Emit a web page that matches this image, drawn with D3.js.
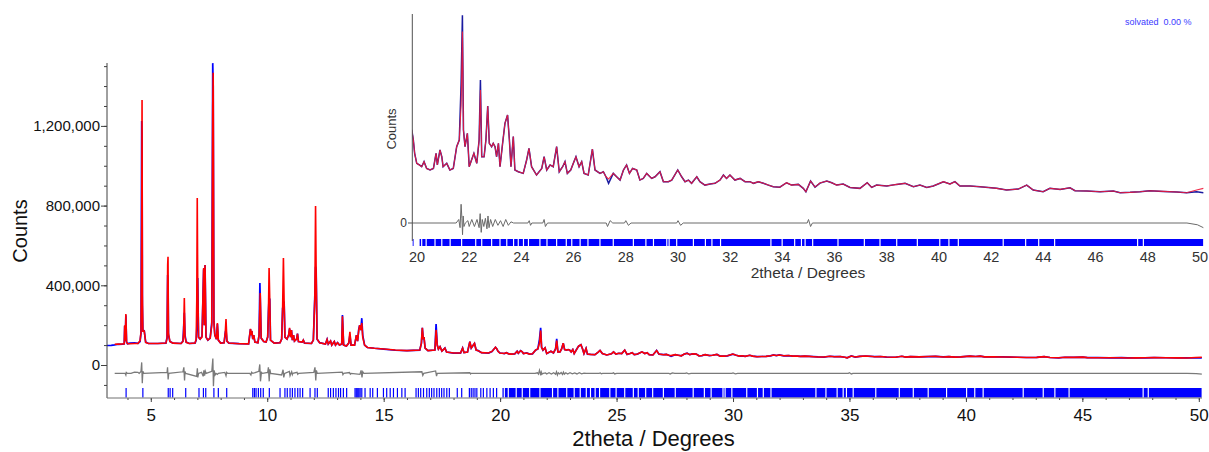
<!DOCTYPE html>
<html><head><meta charset="utf-8">
<script src="https://cdn.jsdelivr.net/npm/d3@7"></script>
<style>
html,body{margin:0;padding:0;background:#fff;}
svg{display:block;font-family:Arial,"Liberation Sans",sans-serif;}
</style></head><body>
<svg id="chart" width="1209" height="452"></svg>
<script>
// ---------------- DATA (2theta in degrees, intensities in thousands of counts) ----------------
const twoTheta = [
 3.12, 3.30, 3.45, 3.60, 3.80, 3.86, 3.88, 3.905, 3.93, 3.96,
 4.00, 4.10, 4.30, 4.45, 4.54, 4.58, 4.61, 4.625, 4.64, 4.66,
 4.72, 4.78, 4.90, 5.30, 5.65, 5.70, 5.725, 5.74, 5.76, 5.82,
 5.95, 6.30, 6.38, 6.41, 6.44, 6.47, 6.52, 6.65, 6.90, 6.95,
 6.975, 6.995, 7.015, 7.05, 7.12, 7.20, 7.27, 7.30, 7.33, 7.37,
 7.45, 7.55, 7.62, 7.66, 7.68, 7.71, 7.75, 7.82, 7.86, 7.90,
 8.00, 8.15, 8.20, 8.23, 8.27, 8.35, 8.80, 9.20, 9.28, 9.31,
 9.34, 9.38, 9.42, 9.47, 9.60, 9.65, 9.685, 9.70, 9.74, 9.85,
 9.95, 10.02, 10.05, 10.08, 10.11, 10.14, 10.30, 10.55, 10.62, 10.66,
 10.695, 10.725, 10.76, 10.85, 10.92, 10.96, 11.00, 11.04, 11.08, 11.13,
 11.17, 11.26, 11.30, 11.34, 11.50, 11.55, 11.60, 11.90, 11.98, 12.045,
 12.075, 12.10, 12.14, 12.25, 12.50, 12.57, 12.62, 12.72, 12.77, 12.88,
 12.93, 13.02, 13.10, 13.20, 13.23, 13.28, 13.40, 13.50, 13.55, 13.60,
 13.75, 13.83, 13.88, 13.93, 13.97, 14.02, 14.06, 14.10, 14.18, 14.30,
 14.60, 15.00, 15.50, 16.00, 16.55, 16.62, 16.66, 16.70, 16.73, 16.78,
 16.90, 17.20, 17.25, 17.30, 17.35, 17.42, 17.50, 17.63, 17.70, 18.00,
 18.30, 18.39, 18.45, 18.60, 18.70, 18.76, 18.82, 18.90, 18.97, 19.06,
 19.20, 19.50, 19.65, 19.80,
 19.86, 19.91, 19.99, 20.09, 20.18, 20.27, 20.37, 20.50, 20.63, 20.73,
 20.78, 20.88, 20.95, 21.00, 21.14, 21.26, 21.39, 21.52, 21.62, 21.69,
 21.74, 21.78, 21.84, 21.93, 22.00, 22.09, 22.18, 22.29, 22.38, 22.43,
 22.48, 22.57, 22.64, 22.71, 22.77, 22.86, 22.92, 22.99, 23.05, 23.12,
 23.18, 23.28, 23.37, 23.47, 23.54, 23.60, 23.69, 23.75, 23.88, 24.07,
 24.20, 24.29, 24.39, 24.58, 24.78, 24.87, 24.97, 25.10, 25.22, 25.35,
 25.45, 25.58, 25.67, 25.76, 25.89, 25.99, 26.09, 26.21, 26.31, 26.40,
 26.56, 26.72, 26.82, 27.01, 27.14, 27.24, 27.34, 27.52, 27.65, 27.78,
 27.91, 28.03, 28.14, 28.26, 28.42, 28.54, 28.67, 28.80, 28.99, 29.12,
 29.31, 29.44, 29.63, 29.76, 29.99, 30.14, 30.27, 30.40, 30.52, 30.72,
 30.84, 31.03, 31.23, 31.42, 31.61, 31.74, 31.86, 31.99, 32.18, 32.38,
 32.57, 32.76, 32.89, 33.08, 33.27, 33.46, 33.65, 33.90, 34.16, 34.35,
 34.61, 34.80, 34.90, 35.08, 35.25, 35.44, 35.70, 35.89, 36.08, 36.33,
 36.59, 36.97, 37.25, 37.42, 37.61, 38.00, 38.38, 38.70, 39.02, 39.27,
 39.53, 39.78, 40.17, 40.42, 40.61, 40.80, 41.19, 41.57, 41.89, 42.21,
 42.59, 43.04, 43.36, 43.61, 43.99, 44.25, 44.64, 45.02, 45.21, 45.66,
 46.17, 46.68, 46.94, 47.32, 47.70, 48.08, 48.59, 49.11, 49.49, 49.87,
 50.13
];
const observed = [
 98, 99, 101, 104, 105, 106, 196, 120, 250, 115,
 107, 110, 111, 109, 118, 160, 1225, 1150, 300, 175,
 172, 115, 108, 108, 110, 140, 452, 420, 150, 118,
 110, 108, 120, 185, 262, 150, 115, 108, 110, 125,
 180, 250, 437, 140, 130, 145, 480, 200, 502, 140,
 125, 135, 215, 1515, 1400, 220, 150, 130, 205, 125,
 110, 112, 165, 175, 120, 110, 107, 106, 180, 150,
 170, 130, 150, 115, 112, 150, 411, 340, 135, 118,
 115, 140, 262, 336, 330, 125, 110, 112, 130, 286,
 300, 319, 140, 130, 150, 182, 140, 175, 125, 150,
 120, 130, 157, 118, 115, 125, 110, 108, 125, 352,
 493, 480, 130, 112, 105, 128, 105, 120, 100, 118,
 100, 112, 100, 105, 251, 100, 95, 110, 150, 100,
 100, 150, 120, 180, 200, 175, 235, 150, 100, 88,
 84, 80, 74, 72, 75, 110, 187, 130, 140, 85,
 72, 75, 206, 100, 80, 92, 70, 85, 65, 60,
 60, 85, 62, 65, 117, 85, 95, 108, 75, 72,
 62, 60, 68, 89,
 80.3, 68.9, 60.4, 59, 57.5, 61.8, 56, 54.7, 56, 68.9,
 59, 71.8, 66, 57.5, 60.4, 54.7, 56, 74.6, 80.3, 128.8,
 187, 88.9, 74.6, 86, 57.5, 63.2, 68.9, 60.4, 80.3, 131.6,
 66, 66, 80.3, 109.4, 77.5, 74.6, 77.5, 74.6, 66, 77.5,
 57.5, 77.5, 94.6, 101.7, 80.3, 57.5, 83.2, 54.7, 53.2, 51.8,
 63.2, 73.2, 57.5, 50.4, 56, 66, 54.7, 59, 57.5, 74.6,
 53.2, 57.5, 61.8, 51.8, 54.7, 60.4, 66, 57.5, 61.8, 51.8,
 50.4, 72.6, 54.7, 51.8, 53.2, 48.9, 43.3, 51.8, 48.9, 46.1,
 54.7, 59, 51.8, 56, 54.7, 46.1, 47.5, 51.8, 47.5, 48.9,
 53.2, 44.7, 44.7, 46.1, 54.7, 48.9, 44.7, 46.1, 43.3, 48.9,
 44.7, 41.8, 42.7, 43.3, 46.1, 50.4, 47.5, 50.4, 46.1, 47.5,
 44.7, 44.7, 43.3, 44.7, 43.3, 41.8, 40.4, 40, 43.8, 41.8,
 42.4, 39, 36.1, 45.3, 40.1, 43.5, 45.3, 43.8, 41.8, 42.7,
 39.8, 39, 43.8, 39.8, 41.8, 41, 42.4, 43.3, 40.4, 41.8,
 39.8, 41, 44.7, 42.7, 44.7, 41, 41, 40.4, 39.8, 39,
 37.6, 38.4, 41.8, 37.6, 36.1, 39, 38.1, 39.5, 37, 36.7,
 36.1, 36.7, 35.3, 35.6, 36.1, 37, 36.4, 35.9, 35.3, 36.1,
 35.3
];
const calculated = [
 null, null, 104, 105, 106, 107, 200, 122, 256, 116,
 107, 107, 108, 108, 122, 165, 700, 1330, 350, 170,
 170, 113, 108, 108, 110, 135, 500, 543, 160, 118,
 110, 108, 118, 160, 336, 140, 114, 108, 110, 130,
 326, 838, 420, 140, 130, 140, 487, 200, 502, 140,
 125, 135, 200, 1300, 1467, 215, 150, 130, 210, 125,
 110, 112, 165, 231, 120, 110, 107, 106, 182, 150,
 172, 130, 150, 115, 112, 150, 300, 361, 135, 118,
 115, 140, 250, 487, 320, 125, 110, 112, 130, 280,
 537, 319, 140, 130, 150, 186, 140, 175, 125, 150,
 120, 130, 157, 118, 115, 125, 110, 108, 125, 340,
 798, 470, 130, 112, 105, 128, 105, 120, 100, 118,
 100, 112, 100, 105, 245, 100, 95, 110, 167, 100,
 100, 150, 120, 175, 200, 175, 210, 140, 100, 88,
 84, 80, 75, 72, 75, 110, 187, 130, 140, 85,
 72, 75, 176, 100, 80, 92, 70, 85, 65, 60,
 60, 85, 62, 65, 117, 85, 95, 108, 75, 72,
 62, 60, 68, 89,
 80.3, 68.9, 60.4, 59, 57.5, 61.8, 56, 54.7, 56, 68.9,
 59, 71.8, 66, 57.5, 60.4, 54.7, 56, 74.6, 80.3, 110,
 173, 88.9, 74.6, 86, 57.5, 63.2, 68.9, 60.4, 80.3, 123,
 66, 66, 80.3, 109.4, 77.5, 74.6, 77.5, 74.6, 66, 77.5,
 57.5, 77.5, 94.6, 101.7, 80.3, 57.5, 83.2, 54.7, 53.2, 51.8,
 63.2, 73.2, 57.5, 50.4, 56, 66, 54.7, 59, 57.5, 74.6,
 53.2, 57.5, 61.8, 51.8, 54.7, 60.4, 66, 57.5, 61.8, 51.8,
 50.4, 72.6, 54.7, 51.8, 53.2, 48.9, 47, 51.8, 48.9, 46.1,
 54.7, 59, 51.8, 56, 54.7, 46.1, 47.5, 51.8, 47.5, 48.9,
 53.2, 44.7, 44.7, 46.1, 54.7, 48.9, 44.7, 46.1, 43.3, 48.9,
 44.7, 41.8, 42.7, 43.3, 46.1, 50.4, 47.5, 50.4, 46.1, 47.5,
 44.7, 44.7, 43.3, 44.7, 43.3, 41.8, 40.4, 40, 43.8, 41.8,
 42.4, 39, 36.1, 45.3, 40.1, 43.5, 45.3, 43.8, 41.8, 42.7,
 39.8, 39, 43.8, 39.8, 41.8, 41, 42.4, 43.3, 40.4, 41.8,
 39.8, 41, 44.7, 42.7, 44.7, 41, 41, 40.4, 39.8, 39,
 37.6, 38.4, 41.8, 37.6, 36.1, 39, 38.1, 39.5, 37, 36.7,
 36.1, 36.7, 35.3, 35.6, 36.1, 37, 36.4, 35.9, 35.3, 37.6,
 39
];
const diffTheta = [
 3.45, 3.90, 3.93, 3.95, 4.00, 4.15, 4.30, 4.45, 4.50, 4.58,
 4.61, 4.635, 4.66, 4.70, 5.70, 5.72, 5.745, 5.77, 6.38, 6.42,
 6.45, 6.47, 6.50, 6.97, 7.00, 7.02, 7.05, 7.18, 7.25, 7.28,
 7.31, 7.34, 7.38, 7.62, 7.665, 7.69, 7.72, 7.76, 7.80, 7.86,
 7.90, 8.18, 8.23, 8.26, 8.30, 9.25, 9.30, 9.33, 9.38, 9.64,
 9.68, 9.71, 9.75, 9.80, 10.02, 10.05, 10.085, 10.11, 10.15, 10.62,
 10.68, 10.71, 10.75, 10.95, 10.98, 11.02, 11.05, 11.08, 11.10, 11.28,
 11.31, 11.35, 12.00, 12.05, 12.085, 12.11, 12.15, 13.22, 13.25, 13.28,
 13.53, 13.57, 13.60, 13.98, 14.03, 14.07, 14.10, 14.15, 16.64, 16.68,
 16.72, 17.23, 17.27, 17.30, 18.70, 18.73, 18.76, 21.50, 21.60, 21.65,
 21.69, 21.72, 21.745, 21.77, 21.80, 21.85, 21.95, 22.00, 22.10, 22.20,
 22.30, 22.38, 22.42, 22.46, 22.50, 22.56, 22.62, 22.68, 22.72, 22.76,
 22.82, 22.90, 23.00, 23.10, 23.20, 23.30, 23.40, 23.50, 23.60, 23.70,
 24.25, 24.30, 24.35, 24.40, 24.82, 24.87, 24.92, 25.00, 27.25, 27.30,
 27.40, 27.50, 27.95, 28.00, 28.10, 28.20, 29.95, 30.00, 30.10, 30.20,
 34.95, 35.00, 35.08, 35.15, 49.50, 49.90, 50.13
];
const difference = [
 0, 0, -8, 5, 0, 0, 6, 5, 0, 10,
 55, -50, 10, 0, 5, 30, -30, 0, 8, 30,
 -35, 10, 0, -15, 25, -20, 0, 5, -15, 15,
 -12, 12, 0, 10, 75, -65, 15, -8, 0, -5,
 0, 5, -12, 5, 0, 0, -8, 6, 0, 10,
 45, -40, 5, 0, 5, 30, -40, 20, 0, -8,
 18, -20, 0, 10, -12, 0, 8, -6, 0, 5,
 -5, 0, 5, 30, -35, 15, 0, 6, -6, 0,
 4, -4, 0, -5, 15, -20, 8, 0, 8, -10,
 0, 12, -14, 0, 3, -3, 0, 0, 3, -4,
 16, 4, -10, 6, -3, 0, 2, -3, 3, -3,
 3, -4, 8, -8, 3, -3, 4, -5, 6, -4,
 3, -3, 3, -2, 2, -3, 3, -2, 1, 0,
 0, 2, -2, 0, 0, 3, -3, 0, 0, -3,
 2, 0, 0, 2, -2, 0, 0, 2, -2, 0,
 0, 3, -3, 0, 0, -1.5, -4
];
// individual reflection positions (2theta)
const reflections = [
 3.94, 4.66, 5.75, 5.83, 5.94, 6.50, 7.07, 7.26, 7.36, 7.71, 7.90, 8.26,
 9.38, 9.45, 9.52, 9.62, 9.72, 9.83, 10.09, 10.55, 10.76, 10.86, 10.98, 11.08,
 11.19, 11.31, 11.41, 11.52, 11.84, 12.05, 12.15, 12.62, 12.72, 12.84, 12.95, 13.06,
 13.15, 13.27, 13.41, 13.77, 13.82, 13.86, 13.90, 13.94, 13.99, 14.06, 14.20, 14.42,
 14.53, 14.73, 14.99, 15.13, 15.28, 15.42, 15.59, 15.78, 15.92, 16.39, 16.49, 16.59,
 16.71, 16.85, 16.96, 17.06, 17.16, 17.28, 17.39, 17.49, 17.59, 17.71, 17.82, 18.16,
 18.35, 18.68, 18.76, 18.84, 18.92, 19.00, 19.17, 19.28, 19.43, 19.57, 19.71, 19.85
];
// above 20 degrees the reflections merge into a continuous band, with these visible gaps
const reflectionBand = [20.10, 50.12];
const reflectionGaps = [
 20.18, 20.35, 20.69, 20.95, 21.27, 21.71, 22.25, 22.48, 22.86, 23.18, 23.44, 23.70,
 23.88, 24.08, 24.27, 24.71, 24.98, 25.35, 25.72, 25.93, 26.25, 26.55, 27.01, 27.52,
 28.29, 28.77, 29.06, 29.57, 29.66, 29.95, 30.59, 31.05, 31.30, 31.63, 33.56, 33.99,
 34.47, 34.73, 34.87, 35.16, 36.13, 37.14, 37.74, 38.38, 39.17, 40.03, 40.38, 40.74,
 42.46, 43.32, 43.82, 44.43, 47.61, 47.83
];
const yTickValues = [0, 400, 800, 1200];
const yTickLabels = ["0", "400,000", "800,000", "1,200,000"];
const yMinorTicks = [-100, 0, 100, 200, 300, 400, 500, 600, 700, 800, 900, 1000, 1100, 1200, 1300, 1400, 1500];
const xTickValues = [5, 10, 15, 20, 25, 30, 35, 40, 45, 50];
const xMinorTicks = d3.range(4, 51);
const insetTickValues = [20, 22, 24, 26, 28, 30, 32, 34, 36, 38, 40, 42, 44, 46, 48, 50];
const xTitle = "2theta / Degrees";
const yTitle = "Counts";
const phaseLabel = "solvated  0.00 %";

// ---------------- DRAWING ----------------
const svg = d3.select("#chart");
const profile = twoTheta.map((t, i) => ({t, o: observed[i], c: calculated[i]}));
const diffPts = diffTheta.map((t, i) => ({t, d: difference[i]}));

const BLUE = "#0000ff", RED = "#ff0000", GREY = "#7a7a7a", AX = "#404040";

// ---- main plot ----
const x = d3.scaleLinear().domain([3.12, 50.12]).range([107, 1201.6]);
const y = d3.scaleLinear().domain([-165.6, 1515.7]).range([398, 63]);
const mainDiffOffset = -42;

svg.append("defs").append("clipPath").attr("id", "mainClip")
  .append("rect").attr("x", 107).attr("y", 55).attr("width", 1097).attr("height", 343);

const gm = svg.append("g").attr("clip-path", "url(#mainClip)");

function bandsFrom(band, gaps, w) {
  const out = []; let s = band[0];
  gaps.forEach(g => { out.push([s, g - w / 2]); s = g + w / 2; });
  out.push([s, band[1]]);
  return out;
}
const mainBands = bandsFrom(reflectionBand, reflectionGaps, 0.05);
gm.selectAll("line.refl").data(reflections).join("line")
  .attr("x1", d => x(d)).attr("x2", d => x(d)).attr("y1", 388).attr("y2", 397.5)
  .attr("stroke", BLUE).attr("stroke-width", 1.2);
gm.selectAll("rect.band").data(mainBands).join("rect")
  .attr("x", d => x(d[0])).attr("width", d => Math.max(0, x(d[1]) - x(d[0])))
  .attr("y", 388).attr("height", 9.5).attr("fill", BLUE);

gm.append("path").datum(diffPts)
  .attr("d", d3.line().x(d => x(d.t)).y(d => y(d.d + mainDiffOffset)))
  .attr("fill", "none").attr("stroke", GREY).attr("stroke-width", 1.3);
gm.append("path").datum(profile)
  .attr("d", d3.line().x(d => x(d.t)).y(d => y(d.o)))
  .attr("fill", "none").attr("stroke", BLUE).attr("stroke-width", 1.7);
gm.append("path").datum(profile)
  .attr("d", d3.line().defined(d => d.c != null).x(d => x(d.t)).y(d => y(d.c)))
  .attr("fill", "none").attr("stroke", RED).attr("stroke-width", 1.6);

// axes
const yAxisG = svg.append("g").attr("transform", "translate(107,0)");
yAxisG.call(d3.axisLeft(y).tickValues(yMinorTicks).tickSize(3).tickFormat(""));
yAxisG.call(g => g.select(".domain").remove());
const yMaj = svg.append("g").attr("transform", "translate(107,0)")
  .call(d3.axisLeft(y).tickValues(yTickValues).tickSize(6).tickPadding(1)
        .tickFormat((d, i) => yTickLabels[i]));
yMaj.select(".domain").remove();
yMaj.selectAll("text").attr("font-size", 15).attr("fill", "#111").attr("font-family", "Arial, 'Liberation Sans', sans-serif");
svg.append("line").attr("x1", 107).attr("x2", 107).attr("y1", 63).attr("y2", 398).attr("stroke", AX);

const xAxisMin = svg.append("g").attr("transform", "translate(0,398)")
  .call(d3.axisBottom(x).tickValues(xMinorTicks).tickSize(2).tickFormat(""));
xAxisMin.select(".domain").remove();
const xAxisMaj = svg.append("g").attr("transform", "translate(0,398)")
  .call(d3.axisBottom(x).tickValues(xTickValues).tickSize(4).tickPadding(7));
xAxisMaj.select(".domain").remove();
xAxisMaj.selectAll("text").attr("font-size", 17).attr("fill", "#111").attr("font-family", "Arial, 'Liberation Sans', sans-serif");
svg.selectAll(".tick line").attr("stroke", AX);
svg.append("line").attr("x1", 107).attr("x2", 1202).attr("y1", 398).attr("y2", 398).attr("stroke", "#707070");

svg.append("text").attr("x", 653.5).attr("y", 446).attr("text-anchor", "middle")
  .attr("font-size", 22).attr("fill", "#111").text(xTitle);
svg.append("text").attr("transform", "translate(27,231) rotate(-90)").attr("text-anchor", "middle")
  .attr("font-size", 20).attr("fill", "#111").text(yTitle);

// ---- inset ----
const xi = d3.scaleLinear().domain([20, 50]).range([417, 1200]);
const yi = d3.scaleLinear().domain([0, 188]).range([234, 14]);
const insetDiffOffset = 9.4;
const insetRange = [19.8, 50.13];

svg.append("defs").append("clipPath").attr("id", "insetClip")
  .append("rect").attr("x", xi(insetRange[0]) + 0.5).attr("y", 8).attr("width", xi(insetRange[1]) - xi(insetRange[0])).attr("height", 245);
const gi = svg.append("g").attr("clip-path", "url(#insetClip)");

const insetBands = bandsFrom(reflectionBand, reflectionGaps, 0.045);
gi.selectAll("line.refl").data(reflections.filter(r => r >= insetRange[0])).join("line")
  .attr("x1", d => xi(d)).attr("x2", d => xi(d)).attr("y1", 239).attr("y2", 246)
  .attr("stroke", BLUE).attr("stroke-width", 1);
gi.selectAll("rect.band").data(insetBands).join("rect")
  .attr("x", d => xi(d[0])).attr("width", d => Math.max(0, xi(d[1]) - xi(d[0])))
  .attr("y", 239).attr("height", 7).attr("fill", BLUE);

const insetProfile = profile.filter(d => d.t >= insetRange[0]);
const insetDiff = [{t: insetRange[0], d: 0}].concat(diffPts.filter(d => d.t > insetRange[0]));
gi.append("path").datum(insetDiff)
  .attr("d", d3.line().x(d => xi(d.t)).y(d => yi(d.d + insetDiffOffset)))
  .attr("fill", "none").attr("stroke", "#6a6a6a").attr("stroke-width", 1);
gi.append("path").datum(insetProfile)
  .attr("d", d3.line().x(d => xi(d.t)).y(d => yi(d.o)))
  .attr("fill", "none").attr("stroke", "#1a1aa0").attr("stroke-width", 1.5);
gi.append("path").datum(insetProfile)
  .attr("d", d3.line().defined(d => d.c != null).x(d => xi(d.t)).y(d => yi(d.c)))
  .attr("fill", "none").attr("stroke", "#ee1a3a").attr("stroke-width", 1.1).attr("stroke-opacity", 0.9);

svg.append("line").attr("x1", 412.3).attr("x2", 412.3).attr("y1", 14).attr("y2", 241).attr("stroke", "#505050");
svg.append("line").attr("x1", 408).attr("x2", 412.3).attr("y1", yi(insetDiffOffset)).attr("y2", yi(insetDiffOffset)).attr("stroke", "#505050");
svg.append("text").attr("x", 407).attr("y", yi(insetDiffOffset)).attr("dy", "0.35em").attr("text-anchor", "end")
  .attr("font-size", 12).attr("fill", "#333").text("0");
svg.append("g").selectAll("text").data(insetTickValues).join("text")
  .attr("x", d => xi(d)).attr("y", 262).attr("text-anchor", "middle")
  .attr("font-size", 14.5).attr("fill", "#333").text(d => d);
svg.append("text").attr("x", 808).attr("y", 278).attr("text-anchor", "middle")
  .attr("font-size", 15.5).attr("fill", "#333").text(xTitle);
svg.append("text").attr("transform", "translate(396,129) rotate(-90)").attr("text-anchor", "middle")
  .attr("font-size", 13).attr("fill", "#333").text(yTitle);
svg.append("text").attr("x", 1125).attr("y", 25).attr("font-size", 9).attr("fill", "#3a3aff")
  .style("white-space", "pre").text(phaseLabel);
</script>
</body></html>
